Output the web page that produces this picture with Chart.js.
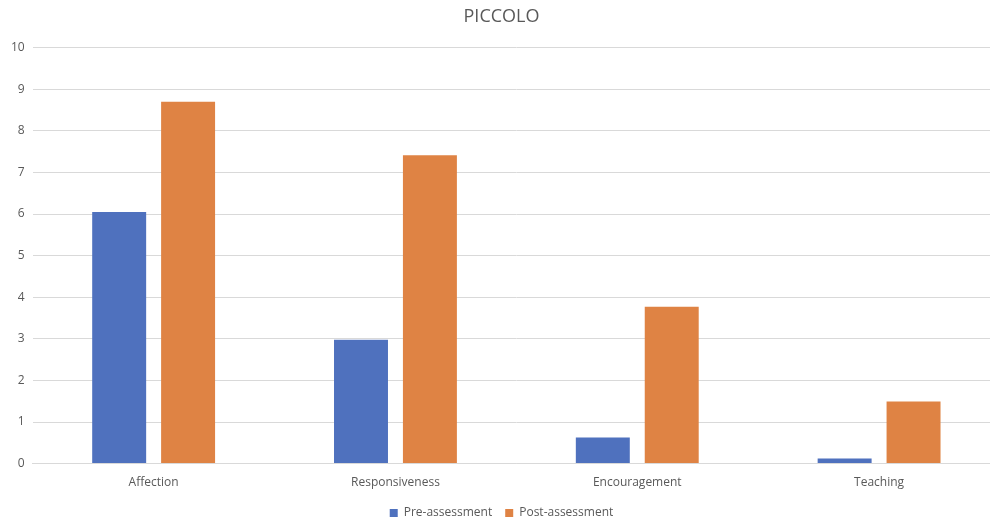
<!DOCTYPE html>
<html>
<head>
<meta charset="utf-8">
<script src="https://cdn.jsdelivr.net/npm/chart.js@4"></script>
<style>
  html, body { margin: 0; padding: 0; background: #fff; overflow: hidden; }
  #wrap { width: 1000px; height: 522px; }
</style>
</head>
<body>
<div id="wrap"><canvas id="piccoloChart"></canvas></div>
<script>
const categories = ["Affection", "Responsiveness", "Encouragement", "Teaching"];
const preAssessment = [6.05, 2.98, 0.63, 0.12];
const postAssessment = [8.70, 7.41, 3.77, 1.49];
const yTicks = [0, 1, 2, 3, 4, 5, 6, 7, 8, 9, 10];

const textColor = "#595959";
const fontFamily = "'Open Sans', 'Liberation Sans', sans-serif";

const ctx = document.getElementById("piccoloChart").getContext("2d");
const chart = new Chart(ctx, {
    type: "bar",
    data: {
        labels: categories,
        datasets: [
            {
                label: "Pre-assessment",
                data: preAssessment,
                backgroundColor: "#4f71be",
                categoryPercentage: 0.57,
                barPercentage: 0.783
            },
            {
                label: "Post-assessment",
                data: postAssessment,
                backgroundColor: "#df8344",
                categoryPercentage: 0.57,
                barPercentage: 0.783
            }
        ]
    },
    options: {
        responsive: true,
        maintainAspectRatio: false,
        animation: false,
        layout: { padding: { left: 3, right: 0, top: 0, bottom: -7 } },
        plugins: {
            title: {
                display: true,
                text: "PICCOLO",
                color: textColor,
                font: { family: fontFamily, size: 18, weight: "normal" },
                padding: { top: 6, bottom: 20 }
            },
            legend: {
                position: "bottom",
                labels: {
                    color: textColor,
                    font: { family: fontFamily, size: 12 },
                    boxWidth: 8,
                    boxHeight: 8,
                    padding: 13
                }
            },
            tooltip: { enabled: false }
        },
        scales: {
            x: {
                grid: { display: false },
                border: { color: "#d9d9d9" },
                ticks: {
                    color: textColor,
                    font: { family: fontFamily, size: 12 },
                    padding: 4
                }
            },
            y: {
                min: 0,
                max: 10,
                afterBuildTicks: axis => { axis.ticks = yTicks.map(v => ({ value: v })); },
                grid: { color: "#d9d9d9", drawTicks: false },
                border: { display: false },
                ticks: {
                    color: textColor,
                    font: { family: fontFamily, size: 12 },
                    padding: 8
                }
            }
        }
    }
});
</script>
</body>
</html>
